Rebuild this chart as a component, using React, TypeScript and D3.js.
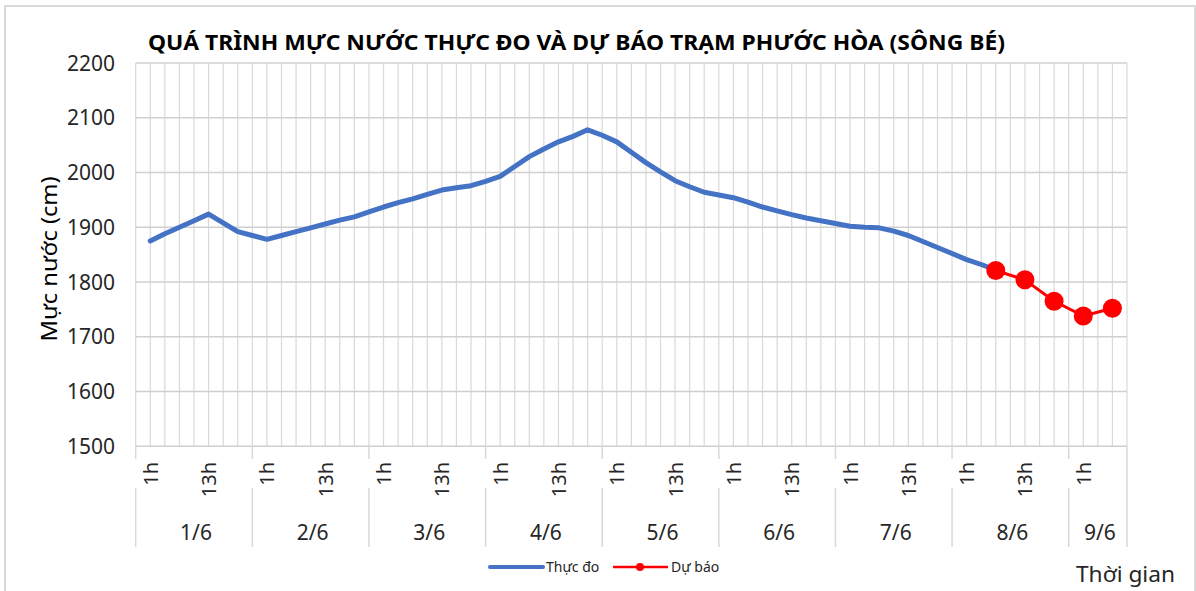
import React from "react";
import * as d3 from "d3";

const TITLE = "QUÁ TRÌNH MỰC NƯỚC THỰC ĐO VÀ DỰ BÁO TRẠM PHƯỚC HÒA (SÔNG BÉ)";
const Y_TITLE = "Mực nước (cm)";
const X_TITLE = "Thời gian";
const SERIES_NAMES = ["Thực đo", "Dự báo"];

const days = ["1/6", "2/6", "3/6", "4/6", "5/6", "6/6", "7/6", "8/6", "9/6"];
const hours = ["1h", "4h", "7h", "10h", "13h", "16h", "19h", "22h"];
const shownHourLabels = ["1h", "13h"];
const lastCategory = "9/6 7h";
const yTicks = [1500, 1600, 1700, 1800, 1900, 2000, 2100, 2200];

// Thực đo (observed), every 3 hours from 1/6 1h
const observed = [
  1875, 1888, 1900, 1912, 1924, 1908, 1892, 1885,
  1878, 1885, 1892, 1899, 1906, 1913, 1919, 1928,
  1937, 1945, 1952, 1960, 1968, 1972, 1976, 1984,
  1993, 2011, 2029, 2043, 2056, 2066, 2078, 2068,
  2056, 2037, 2018, 2001, 1985, 1974, 1964, 1959,
  1954, 1946, 1937, 1930, 1923, 1917, 1912, 1907,
  1902, 1900, 1899, 1893, 1885, 1874, 1863, 1852,
  1841, 1832, 1822,
];

// Dự báo (forecast)
const forecastTimes = ["8/6 7h", "8/6 13h", "8/6 19h", "9/6 1h", "9/6 7h"];
const forecast = [1821, 1804, 1765, 1738, 1752];

const allCats = days.flatMap((d) => hours.map((h) => `${d} ${h}`));
const categories = allCats.slice(0, allCats.indexOf(lastCategory) + 1);

const W = 1196;
const H = 591;
const PL = 135.7, PR = 1127, PT = 63, PB = 446.3;
const FONT = "'Noto Sans', 'Open Sans', sans-serif";
const GRID = "#d9d9d9";
const TXT = "#262626";
const BLUE = "#4472C4";
const RED = "#FF0000";

export default function App() {
  const x = d3.scalePoint<string>().domain(categories).range([PL, PR]).padding(1);
  const y = d3.scaleLinear().domain([1500, 2200]).range([PB, PT]);
  const step = x.step();

  const obsLine = d3
    .line<number>()
    .x((_, i) => x(categories[i]) as number)
    .y((d) => y(d))(observed) as string;

  const fcLine = d3
    .line<number>()
    .x((_, i) => x(forecastTimes[i]) as number)
    .y((d) => y(d))(forecast) as string;

  const dayStarts = days.map((d) => {
    const first = categories.find((c) => c.startsWith(d + " ")) as string;
    return (x(first) as number) - step;
  });
  const dayBounds = days.map((d, i) => ({
    day: d,
    left: dayStarts[i],
    right: i + 1 < days.length ? dayStarts[i + 1] : PR,
  }));

  const labelCats = categories.filter((c) => shownHourLabels.includes(c.split(" ")[1]));

  const gridXs = [PL, ...categories.map((c) => x(c) as number), PR];

  return (
    <svg
      width={W}
      height={H}
      viewBox={`0 0 ${W} ${H}`}
      style={{ position: "absolute", left: 0, top: 0, background: "#fff" }}
      fontFamily={FONT}
    >
      <rect x={0} y={0} width={W} height={H} fill="#fff" />
      <rect x={5} y={6} width={1190} height={H + 10} fill="none" stroke={GRID} strokeWidth={2} />

      {/* title */}
      <text x={148} y={50} fontSize={22} fontWeight={700} fill="#000" textLength={857} lengthAdjust="spacingAndGlyphs">
        {TITLE}
      </text>

      {/* vertical gridlines */}
      {gridXs.map((gx, i) => (
        <line key={"vx" + i} x1={gx} x2={gx} y1={PT} y2={PB} stroke={GRID} strokeWidth={1.2} />
      ))}
      {/* horizontal gridlines */}
      {yTicks.map((t) => (
        <line key={"hy" + t} x1={PL} x2={PR} y1={y(t)} y2={y(t)} stroke="#d0d0d0" strokeWidth={1.5} />
      ))}

      {/* y tick labels */}
      {yTicks.map((t) => (
        <text key={"yt" + t} x={115} y={y(t) + 7.5} fontSize={21} textAnchor="end" fill={TXT}>
          {t}
        </text>
      ))}
      <text
        transform={`translate(57,259) rotate(-90)`}
        fontSize={22}
        textAnchor="middle"
        fill="#000"
        textLength={165}
        lengthAdjust="spacingAndGlyphs"
      >
        {Y_TITLE}
      </text>

      {/* category axis separators */}
      {dayBounds.map((b) => (
        <g key={"sep" + b.day}>
          <line x1={b.left} x2={b.left} y1={PB} y2={459} stroke={GRID} strokeWidth={1.5} />
          <line x1={b.left} x2={b.left} y1={488} y2={547} stroke={GRID} strokeWidth={1.5} />
        </g>
      ))}
      <line x1={PR} x2={PR} y1={PB} y2={547} stroke={GRID} strokeWidth={1.5} />

      {/* hour labels */}
      {labelCats.map((c) => (
        <text
          key={"hl" + c}
          transform={`translate(${(x(c) as number) + 7.5},462) rotate(-90)`}
          fontSize={20}
          textAnchor="end"
          fill={TXT}
        >
          {c.split(" ")[1]}
        </text>
      ))}
      {/* day labels */}
      {dayBounds.map((b) => (
        <text key={"dl" + b.day} x={(b.left + b.right) / 2 + 2} y={540} fontSize={21} textAnchor="middle" fill={TXT}>
          {b.day}
        </text>
      ))}

      {/* series */}
      <path d={obsLine} fill="none" stroke={BLUE} strokeWidth={5} strokeLinejoin="round" strokeLinecap="round" />
      <path d={fcLine} fill="none" stroke={RED} strokeWidth={3} strokeLinejoin="round" />
      {forecast.map((v, i) => (
        <circle key={"fc" + i} cx={x(forecastTimes[i]) as number} cy={y(v)} r={9.5} fill={RED} />
      ))}

      {/* legend */}
      <line x1={490} x2={543} y1={567} y2={567} stroke={BLUE} strokeWidth={4} strokeLinecap="round" />
      <text x={546} y={572} fontSize={14} fill={TXT}>{SERIES_NAMES[0]}</text>
      <line x1={613} x2={668} y1={567} y2={567} stroke={RED} strokeWidth={2.5} />
      <circle cx={640} cy={567} r={4} fill={RED} />
      <text x={671} y={572} fontSize={14} fill={TXT}>{SERIES_NAMES[1]}</text>

      <text x={1076} y={582} fontSize={22} fill={TXT} textLength={99} lengthAdjust="spacingAndGlyphs">
        {X_TITLE}
      </text>
    </svg>
  );
}
